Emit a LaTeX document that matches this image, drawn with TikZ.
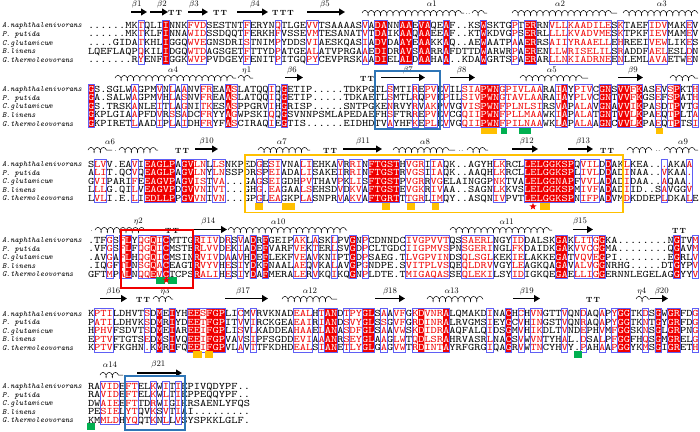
\documentclass[tikz,border=0pt]{standalone}
\usepackage{graphicx}
\usetikzlibrary{decorations.pathmorphing,arrows.meta,shapes.geometric}
\definecolor{espred}{RGB}{240,0,0}
\definecolor{boxblue}{RGB}{95,95,245}
\definecolor{hiblue}{RGB}{46,117,182}
\definecolor{hiorange}{RGB}{255,192,0}
\definecolor{higreen}{RGB}{0,176,80}
\newcommand\mycw{6.23}
\newcommand\myrs{8.55}
\makeatletter
\newcount\colk
\newcommand\ResetMap{\foreach \k in {0,...,99} {\expandafter\gdef\csname cm@\k\endcsname{n}}}
\newcommand\MarkMap[2]{\foreach \a/\b in {#1} {\foreach \k in {\a,...,\b} {\expandafter\xdef\csname cm@\k\endcsname{#2}}}}
\def\ColRow#1{\colk=0 \ColRow@#1\@nil}
\def\ColRow@#1{\ifx#1\@nil\else\ColChar{#1}\advance\colk by 1 \expandafter\ColRow@\fi}
\def\ColChar#1{\edef\cm@cur{\csname cm@\the\colk\endcsname}%
  \if r\cm@cur\textcolor{espred}{#1}\else\if w\cm@cur\textcolor{white}{#1}\else #1\fi\fi}
\makeatother
\newcommand\SetRows[5]{\def\RA{#1}\def\RB{#2}\def\RC{#3}\def\RD{#4}\def\RE{#5}}
\newcommand\DrawRows[1]{%
  \node[seqtxt] (rowa) at (88,{#1+3.05}) {\scalebox{1.187}[1]{\expandafter\ColRow\expandafter{\RA}}};
  \node[seqtxt] (rowb) at (88,{#1+\myrs+3.05}) {\scalebox{1.187}[1]{\expandafter\ColRow\expandafter{\RB}}};
  \node[seqtxt] (rowc) at (88,{#1+2*\myrs+3.05}) {\scalebox{1.187}[1]{\expandafter\ColRow\expandafter{\RC}}};
  \node[seqtxt] (rowd) at (88,{#1+3*\myrs+3.05}) {\scalebox{1.187}[1]{\expandafter\ColRow\expandafter{\RD}}};
  \node[seqtxt] (rowe) at (88,{#1+4*\myrs+3.05}) {\scalebox{1.187}[1]{\expandafter\ColRow\expandafter{\RE}}};
}
\newcommand\DrawNames[1]{%
  \node[nametxt] (na) at (2,{#1+2.6}) {A.naphthalenivorans};
  \node[nametxt] (nb) at (2,{#1+\myrs+2.6}) {P. putida};
  \node[nametxt] (nc) at (2,{#1+2*\myrs+2.6}) {C.glutamicum};
  \node[nametxt] (nd) at (2,{#1+3*\myrs+2.6}) {B.linens};
  \node[nametxt] (ne) at (2,{#1+4*\myrs+2.6}) {G.thermoleovorans};
}
\newcommand\DoBlock[3]{%
  \pgfmathsetmacro\blkyt{#1-4.8}%
  \pgfmathsetmacro\blkyb{#1+4*\myrs+4.4}%
  \ResetMap
  \MarkMap{#2}{r}%
  \MarkMap{#3}{w}%
  \fill[espred] \foreach \a/\b in {#3} {({88+\a*\mycw},\blkyt) rectangle ({88+(\b+1)*\mycw},\blkyb)};
  \DrawNames{#1}
  \DrawRows{#1}
  \draw[frame] \foreach \a/\b in {#2} {({88+\a*\mycw},\blkyt) rectangle ({88+(\b+1)*\mycw},\blkyb)};
}
\newcommand\Strand[3]{\draw[strand] (#1,#3) -- (#2,#3);}
\newcommand\Helix[3]{\draw[helix] (#1,#3) -- (#2,#3);}
\newcommand\SSlab[3]{\node[sslab] at (#1,#2) {#3};}
\newcommand\Turn[3]{\node[ttlab] at (#1,#2) {#3};}
\newcommand\Gap[2]{\node[dotlab] at (#1,#2) {..};}
\tikzset{
 seqtxt/.style={anchor=base west,inner sep=0pt,outer sep=0pt,font=\fontsize{10}{10}\selectfont\ttfamily},
 nametxt/.style={anchor=base west,inner sep=0pt,outer sep=0pt,font=\fontsize{8}{8}\selectfont\ttfamily\itshape},
 frame/.style={draw=boxblue,line width=0.65pt},
 strand/.style={line width=1.9pt,-{Triangle[length=6pt,width=6.8pt]}},
 helix/.style={line width=0.5pt,decorate,decoration={coil,aspect=0.55,segment length=6.23pt,amplitude=2.6pt}},
 sslab/.style={inner sep=0pt,font=\fontsize{8.5}{8.5}\selectfont},
 ttlab/.style={inner sep=0pt,font=\fontsize{7.5}{7.5}\selectfont\bfseries},
 dotlab/.style={inner sep=0pt,font=\fontsize{8}{8}\selectfont},
 orsq/.style={fill=hiorange},
 grsq/.style={fill=higreen},
 redstar/.style={star,star points=5,star point ratio=2.4,fill=espred,minimum size=7.5pt,inner sep=0pt},
}
\begin{document}
\begin{tikzpicture}[x=1pt,y=-1pt]
\useasboundingbox (0,0) rectangle (700,431);
\fill[white] (0,0) rectangle (700,431);

% ---------------- Block 1 ----------------
\SetRows
{......MKTQLIINNKFVDSESTNTFERYNQTLGEVVTSAAAASVADANNAAEVAQEAF..KSWSKTGPTERRNVLLKAADILESKTAEFIDVMAKEV}
{......MKTKLFINNAWIDSSDQQTFERKHFVSSEVMTESANATVTDAIKAAQAAEEAF..KTWKDVGPSERRLLLLKVADVMESKTPKFIEVMAMEV}
{....GIDATKHLIGGQWVEGNSDRISTNIMPYDDSVIAESKQASIADVDAAYEAAKKAQ..AEWAATPAAERRSAIIYRAAELLEHREEIVEWLIKES}
{LQEFLAQPQKILIDGQWTDAGSGETFTTYDPATGEALATVPRGAAEDIDRAVSAARRAFDTTDWARWRPAERENLLWRISELILSRADDFAELESLDN}
{.......RYENFIGGKWVPPVDGEYFENITPITGQPYCEVPRSKAADIELALDAAHAA..KDAWGRTSPAERARLLNKIADRNEENLEMLAVAETWEN}
\DoBlock{25.3}{8/8,12/12,16/18,25/25,30/30,35/36,44/44,46/47,50/51,53/54,57/57,63/63,68/68,70/71,74/76,77/83,85/85,90/92,96/96}{12/12,46/47,50/51,53/54,57/57,63/63,70/71}
\SSlab{136.7}{4}{$\beta$1}\Strand{131}{147}{12}
\SSlab{162}{4}{$\beta$2}\Strand{150}{168}{12}
\Turn{175}{13}{T\hspace{1.2pt}T}
\SSlab{194}{4}{$\beta$3}\Strand{188}{208}{12}
\Turn{220}{13}{T\hspace{1.2pt}T}
\SSlab{255}{4}{$\beta$4}\Strand{237}{268}{12}
\Turn{283}{13}{T\hspace{1.2pt}T\hspace{1.2pt}T}
\SSlab{325}{4}{$\beta$5}\Strand{307}{345}{12}
\SSlab{431.7}{4}{$\alpha$1}\Helix{362}{464}{13}\Gap{468}{14}\Helix{472}{487}{13}
\SSlab{560}{4}{$\alpha$2}\Helix{512}{617}{13}
\SSlab{661.7}{4}{$\alpha$3}\Helix{623}{698}{13}

% ---------------- Block 2 ----------------
\SetRows
{GS.SGLWAGPMVNLAANVFREAASLATQQIQGETIP.....TDKPGTLSMTIREPVEVILSIAPWNGPIVLAARAIAYPIVCGNSVVFKASEVSPKTH}
{GA.SALWAGPMVHLASNVFREAASLATQQIQGETIP.....TDKAETLSMTLRQPVEPILSIVPWNGTAVLAARAIAYPLVCGNTVVFKGSEFSPATH}
{GS.TRSKANLEITLAGNITKESASPPGRVIHGRISP.....SNTPGKENRVYRVAKPVVGVISPWNFPLNLSIRSVAPALAVGNAVVIKPASDTPVTG}
{GKPLGIAAPFDVRSSADCFRYYAGWPSKIQQGSVNNPSMLAPEDAEFHSFTRREPVEVCGQIIPWNFPLLMAAWKIAPALATGNTVVLKPAEQTPLTA}
{GKPIRETLAADIPLAIDHFRYFASCIRAQIEGTIS......EIDHDTVAYHFKEPLEVVGQIIPWNFPILNAAWKLAPALAAGNCVVLKPAEQTPTSI}
\DoBlock{89.2}{0/0,7/7,11/11,13/13,15/15,18/19,22/23,29/29,31/31,48/48,52/52,54/55,57/57,60/65,66/66,67/72,75/76,78/80,82/83,85/88,91/91,93/94,97/97}{0/0,22/22,31/31,63/65,76/76,82/83,85/86,88/88,94/94}
\SSlab{173}{70}{$\alpha$4}\Helix{115}{236}{78}
\SSlab{246.7}{70}{$\eta$1}\Helix{238}{253}{78}
\SSlab{292}{70}{$\beta$6}\Strand{285}{303}{77.5}
\Turn{367}{79}{T\hspace{1.2pt}T}
\SSlab{408}{70}{$\beta$7}\Strand{381}{425}{77.5}
\SSlab{461.7}{70}{$\beta$8}\Strand{450}{475}{77.5}
\SSlab{551.7}{70}{$\alpha$5}\Helix{520}{588}{78}
\SSlab{633}{70}{$\beta$9}\Strand{618}{643}{77.5}
\Helix{670}{698}{78}

% ---------------- Block 3 ----------------
\SetRows
{SLVV.EAVIEAGLPAGVLNLLSNKPEDGESIVNALIEHKAVRRINFTGSTHVGRIIAQK..AGYHLKRCLLELGGKSPQVILDDAKLKEA...AKAA}
{ALIT.QCVQEAGLPAGVLNYLNSSPDRSPEIADALISAKEIRRINFTGSTRVGSIIAQK..AAQHLKRCLLELGGKSPLIVLDDADINAA..VKAA.}
{GVIPARIFEEAGVPAGVISTVA...GAGSEIGDHPVTHAVPKLISFTGSTPVGRRVGELAINGGPNKTVALELGGNAPFVVLADADIDAA..AQAA.}
{LLLG.QILVEAGVPDGVVNIVT...GHG.EAGAALSEHSDVDKVAFTGSTEVGKRIVAA..SAGNLKKVSLELGGKSPMIVFADADIID..SAVGGV}
{LVLI.E.LIEDLLPPGVVNIVN...GPGLEAGKPLASNPRVAKVAFTGRTTTGRLIMQY..ASQNIVPVTLELGGKSPNIFPADVMDKDDEPLDKALE}
\DoBlock{164}{1/2,7/7,9/13,15/18,20/21,27/27,29/30,34/35,40/40,42/43,45/49,51/53,55/56,65/66,70/77,79/81,83/83,86/86,92/92,96/96}{9/13,15/16,45/49,70/77,83/83}
\SSlab{110}{141.5}{$\alpha$6}\Helix{88}{112}{150}\node[dotlab] at (115.5,151) {.};\Helix{119}{158}{150}
\Turn{182}{151}{T\hspace{1.2pt}T}
\SSlab{206.7}{141.5}{$\beta$10}\Strand{195}{218}{149}
\SSlab{281.7}{141.5}{$\alpha$7}\Helix{258}{310}{150}
\Turn{330}{151}{T\hspace{1.2pt}T}
\SSlab{363}{141.5}{$\beta$11}\Strand{343}{382}{149}
\SSlab{425}{141.5}{$\alpha$8}\Helix{393}{455}{150}\Gap{461}{151}\Helix{467}{488}{150}
\SSlab{526.7}{141.5}{$\beta$12}\Strand{512}{538}{149}
\SSlab{583}{141.5}{$\beta$13}\Strand{568}{593}{149}
\Turn{607}{151}{T\hspace{1.2pt}T}
\SSlab{683}{141.5}{$\alpha$9}\Helix{627}{652}{150}\Gap{658}{151}\Helix{664}{698}{150}

% ---------------- Block 4 ----------------
\SetRows
{.TFGSFLYQGQICMTTGRIIVDRSVADRFGEIPAKLASKLPVGNPCDNNDCIVGPVVTQSSAERLNGYIDDALSKGAKLITGGKA........NGTVM}
{.VFGSFLFQGQICMSTERLVVDEKIADEFVARFVEKTERLSVGDPCLTGDCIIGPMVSPNSGERINGLFKDAIDKGAKVVCGGMA........QGAVM}
{.AVGAFLHQGQICMSINRVIVDAAVHDEFLEKFVEAVKNIPTGDPSAEG.TLVGPVINDSQLSGLKEKIELAKKEGATVQVEGPI........EGRLV}
{.IQGFTLNSGQACEAGTRVYVHESIYDKFNAALAEQVKALAVGPGNDPE.SVITPLVSQEQLDRVVGYLEAGKQAGAVALVGGNRHG.....DTGYPV}
{GFTMPALNQQEVCTCPSRALIHESIYDAFMERALERVKQIKQGNPLDTE.TMIGAQASSEQLEKILSYIDIGKQEGAELLIGGERNNLEGELAGGYYV}
\DoBlock{240}{3/3,5/6,8/11,12/12,17/20,22/22,24/24,26/26,28/28,33/34,36/36,39/39,42/42,44/44,51/57,60/64,68/69,75/76,78/80,81/82,94/94,97/97}{6/6,10/10,12/12,17/17,26/26,28/28,42/42,75/76,82/82,94/94}
\SSlab{138.3}{221.5}{$\eta$2}\node[dotlab] at (91.5,231) {.};\Helix{95}{150}{230}
\Turn{172}{231}{T\hspace{1.2pt}T}
\SSlab{208.3}{221.5}{$\beta$14}\Strand{193}{227}{229.5}
\SSlab{278.3}{221.5}{$\alpha$10}\Helix{228}{347}{230}
\SSlab{506.7}{221.5}{$\alpha$11}\Helix{450}{552}{230}
\SSlab{580}{221.5}{$\beta$15}\Strand{573}{593}{229.5}
\Turn{679}{231}{T\hspace{1.2pt}T}

% ---------------- Block 5 ----------------
\SetRows
{KPTILDHVTSDMEIYHEESFGPLICMVRVKNADEALHTANDTPYGLSAAVFGKDVNRALQMAKDINACHCHVNGTTVQNDAQAPYGGTKDSGWGRFDG}
{PATILDHVKSDMRIYDEETFGPITVVIRCKGEAEAIRIANDSVYGLSSGVFGRDINRALRVGMSIEYGCVHINGSTVQNRAQAPYGGTKNTGYGRFDG}
{HPHVFSDVTSDMEIAREEIFGPLISVLKADDEAHAAELANASDFGLSAAVWSKDIDRAAQFALQIDSGMVHIKDLTVNDEPHVMFGGSKNSGLGRPNG}
{EPTVFTGTSEDMSIVQEEIFGPVAVSIPFSGDDEVIAAANRSEYGLAAGLWTQDLSRAHRVASRLNACSVWVNTYHAL.DSALPFGGFHQSGMGRELG}
{KPTVFKGHN.KMRIFQEEIFGPVLAVTTFKDHDEALSIANETLYGLGAGVWTRDINTAYRFGRGIQAGRVWTNCYHVY.PAHAAPGGYKMSGIGRETH}
\DoBlock{313.5}{1/3,9/9,11/11,13/13,16/21,24/24,26/26,33/35,37/37,38/39,41/41,42/43,44/45,47/47,49/50,52/57,64/64,67/67,69/69,71/72,76/76,79/79,82/82,84/84,85/86,89/89,91/91,93/94,97/97}{11/11,13/13,16/17,19/21,38/39,44/45,53/53,57/57,67/67,85/86,91/91,93/94}
\SSlab{113.3}{291}{$\beta$16}\Strand{100}{127}{298.5}
\Turn{143}{300}{T\hspace{1.2pt}T}
\SSlab{165}{291}{$\eta$3}\Helix{153}{173}{299}
\SSlab{243}{291}{$\beta$17}\Strand{225}{268}{298.5}
\SSlab{310}{291}{$\alpha$12}\Helix{282}{337}{299}
\SSlab{390}{291}{$\beta$18}\Strand{375}{405}{298.5}
\SSlab{451.7}{291}{$\alpha$13}\Helix{427}{483}{299}
\SSlab{526.7}{291}{$\beta$19}\Strand{513}{540}{298.5}
\Turn{593}{300}{T\hspace{1.2pt}T}
\SSlab{641.7}{291}{$\eta$4}\Helix{636}{650}{299}
\SSlab{661.7}{291}{$\beta$20}\Strand{650}{668}{298.5}

% ---------------- Block 6 ----------------
\SetRows
{RAVIDEFTELKWITIEPIVQDYPF..}
{RAVIDEFTELKWLTIEPPEQQYPF..}
{DWAIEEFTTDRWIGIKRSAENLYFQS}
{PESIELYTQVKSVTIAI.........}
{KMMLDHYQQTKNLLVSYSPKKLGLF.}
\DoBlock{386}{2/4,6/7,10/10,12/12,14/14}{-20/-20}
\SSlab{110}{364.5}{$\alpha$14}\Helix{100}{123}{375}
\SSlab{158.3}{364.5}{$\beta$21}\Strand{137}{182}{373}

% ---------------- highlight frames ----------------
\draw[hiblue,line width=1.8pt] (375,71) rectangle (440,129.3);
\draw[hiorange,line width=1.8pt] (245,155) rectangle (623,212.5);
\draw[espred,line width=2.2pt] (121,230) rectangle (193,288);
\draw[hiblue,line width=1.8pt] (125,376) rectangle (185,430);

% ---------------- markers ----------------
\fill[orsq] (481,128) rectangle (497,134);
\fill[grsq] (500.7,128) rectangle (507.3,134);
\fill[grsq] (519,128) rectangle (531,134);
\fill[orsq] (655.7,128) rectangle (663.3,134);

\fill[orsq] (255,203) rectangle (263,210);
\fill[orsq] (281.7,203) rectangle (295,210);
\fill[orsq] (381.7,203) rectangle (390,210);
\fill[orsq] (406.7,203) rectangle (415,210);
\fill[orsq] (431.7,203) rectangle (439.3,210);
\node[redstar] (st1) at (533,206.5) {};
\fill[orsq] (540,203) rectangle (550,210);

\fill[grsq] (156,277) rectangle (165,283.5);
\fill[grsq] (168,277) rectangle (177,283.5);
\node[redstar] (st2) at (166.3,280) {};

\fill[orsq] (193,351) rectangle (201.7,358);
\fill[orsq] (205,351) rectangle (213.3,358);
\fill[grsq] (574,350.5) rectangle (581.7,357.5);

\fill[grsq] (87.3,423) rectangle (95,430);
\end{tikzpicture}
\end{document}
